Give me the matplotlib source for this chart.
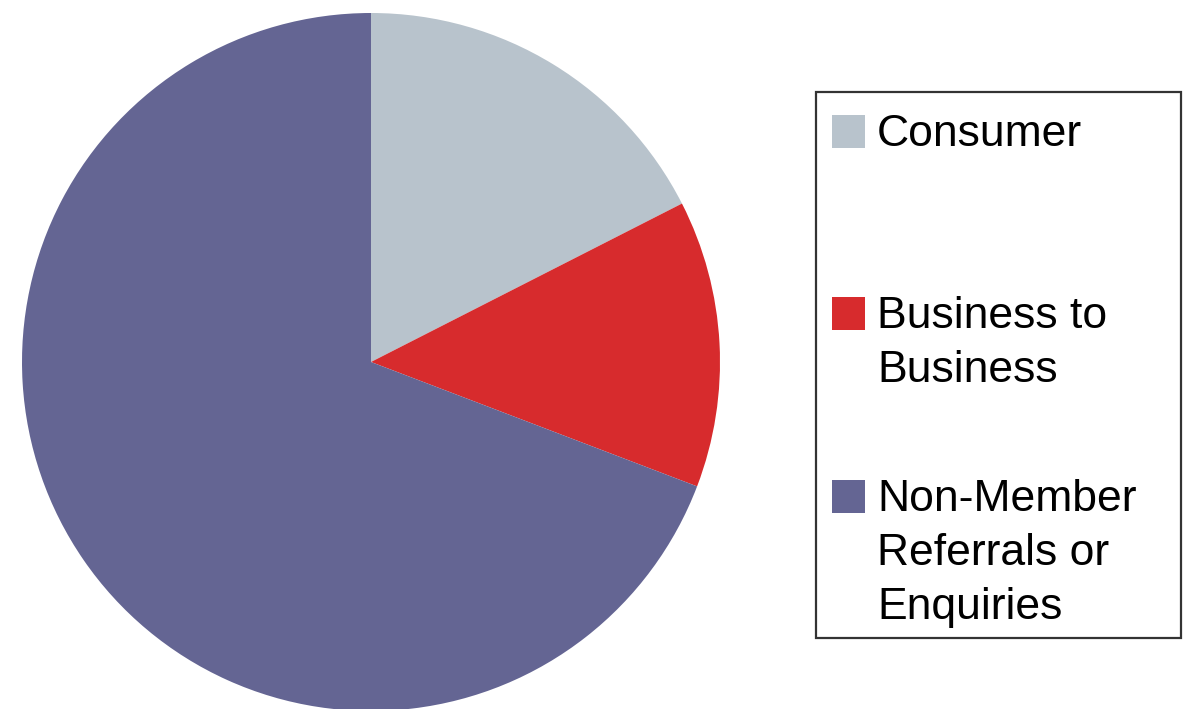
import matplotlib.pyplot as plt
from matplotlib.patches import Rectangle

# share of cases by source (percent)
labels = ["Consumer", "Business to\nBusiness", "Non-Member\nReferrals or\nEnquiries"]
shares = [17.5, 13.3, 69.2]
colors = ["#B8C3CC", "#D72B2D", "#646593"]

W, H = 1189, 709
fig = plt.figure(figsize=(W / 100, H / 100), dpi=100)
plt.rcParams['font.family'] = ['Liberation Sans', 'DejaVu Sans']


def fx(px):
    return px / W


def fy(py):
    return 1 - py / H


# pie: centre (371, 362) px, radius 349 px
cx, cy, r = 371, 362, 349
ax = fig.add_axes([fx(cx - r), fy(cy + r), 2 * r / W, 2 * r / H])
ax.pie(shares, colors=colors, startangle=90, counterclock=False,
       wedgeprops=dict(linewidth=0))
ax.set_xlim(-1, 1)
ax.set_ylim(-1, 1)
ax.set_aspect('auto')
ax.axis('off')

# legend box drawn by hand so squares line up with the first text line
frame = Rectangle((fx(816), fy(638)), fx(1181) - fx(816), fy(92) - fy(638),
                  transform=fig.transFigure, fill=False, edgecolor='#333333',
                  linewidth=1.6)
fig.patches.append(frame)

baselines = [146, 328, 511]
line_gap = 54
for lab, col, yb in zip(labels, colors, baselines):
    sq = Rectangle((fx(832), fy(yb + 2)), fx(865) - fx(832), fy(yb - 31) - fy(yb + 2),
                   transform=fig.transFigure, facecolor=col, edgecolor='none')
    fig.patches.append(sq)
    for i, line in enumerate(lab.split("\n")):
        fig.text(fx(877), fy(yb + i * line_gap), line, fontsize=32,
                 color='black', va='baseline', ha='left')

fig.savefig("out.png", dpi=100)
